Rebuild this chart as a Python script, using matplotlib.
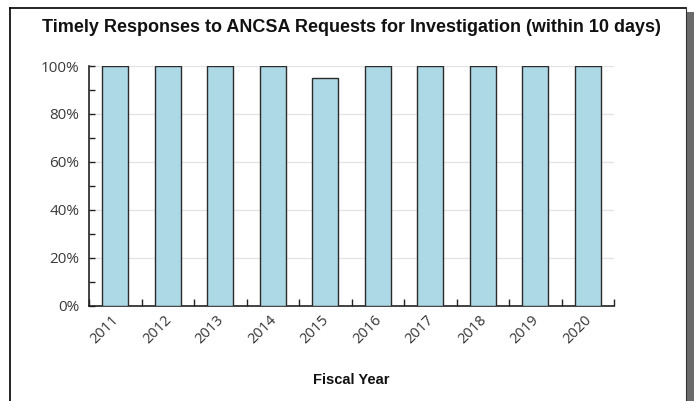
import matplotlib
matplotlib.use("Agg")
import matplotlib.pyplot as plt
import numpy as np
from matplotlib.patches import Rectangle
from matplotlib.lines import Line2D
from matplotlib.ticker import FuncFormatter, MultipleLocator
from matplotlib.transforms import ScaledTranslation

years = ["2011", "2012", "2013", "2014", "2015", "2016", "2017", "2018", "2019", "2020"]
pct = [100, 100, 100, 100, 95, 100, 100, 100, 100, 100]

fig = plt.figure(figsize=(6.94, 4.01), dpi=100, facecolor="white")

# frame around the chart + drop shadow on the right
fig.patches.append(Rectangle((686 / 694, 0), 8 / 694, 389 / 401, transform=fig.transFigure,
                             facecolor="#6b6b6b", edgecolor="none", zorder=0))
fig.lines.append(Line2D([9.5 / 694, 9.5 / 694], [0, 393 / 401], transform=fig.transFigure,
                        color="black", lw=1.2))
fig.lines.append(Line2D([9.5 / 694, 685.5 / 694], [393 / 401, 393 / 401], transform=fig.transFigure,
                        color="black", lw=1.2))
fig.lines.append(Line2D([685.5 / 694, 685.5 / 694], [0, 393 / 401], transform=fig.transFigure,
                        color="#333333", lw=0.8))

ax = fig.add_axes([89 / 694, 95.3 / 401, 525 / 694, 239.7 / 401])
x = np.arange(len(years))
ax.bar(x, pct, width=0.5, color="#add8e6", edgecolor="#2b2b2b", linewidth=1.0, zorder=3)

ax.set_xlim(-0.5, len(years) - 0.5)
ax.set_ylim(0, 100)
ax.yaxis.set_major_locator(MultipleLocator(20))
ax.yaxis.set_minor_locator(MultipleLocator(10))
ax.yaxis.set_major_formatter(FuncFormatter(lambda v, _: f"{v:.0f}%"))
ax.grid(axis="y", color="#e2e2e2", linewidth=0.9, zorder=0)

ax.set_xticks(x)
ax.set_xticklabels(years, rotation=45, ha="right", rotation_mode="anchor",
                   fontfamily="Open Sans", fontsize=10.5, color="#333333")
ax.set_xticks(np.arange(len(years) + 1) - 0.5, minor=True)
ax.tick_params(axis="x", which="major", length=0, pad=5)
ax.tick_params(axis="x", which="minor", direction="in", length=5, width=1, color="#222222")
ax.tick_params(axis="y", which="both", direction="in", length=4, width=1, color="#222222",
               labelsize=11, labelcolor="#3a3a3a", pad=7)
for lbl in ax.get_yticklabels():
    lbl.set_fontfamily("Open Sans")
shift = ScaledTranslation(-4 / 100, 0, fig.dpi_scale_trans)
for lbl in ax.get_xticklabels():
    lbl.set_transform(lbl.get_transform() + shift)

for side in ("top", "right"):
    ax.spines[side].set_visible(False)
for side in ("left", "bottom"):
    ax.spines[side].set_color("#222222")
    ax.spines[side].set_linewidth(1.2)

fig.text(351 / 694, 1 - 27 / 401,
         "Timely Responses to ANCSA Requests for Investigation (within 10 days)",
         ha="center", va="center", fontfamily="Liberation Sans", fontweight="bold",
         fontsize=13, color="#111111")
fig.text(351 / 694, 1 - 380 / 401, "Fiscal Year", ha="center", va="center",
         fontfamily="Liberation Sans", fontweight="bold", fontsize=10.5, color="#111111")

fig.savefig("out.png", dpi=100, facecolor="white")
